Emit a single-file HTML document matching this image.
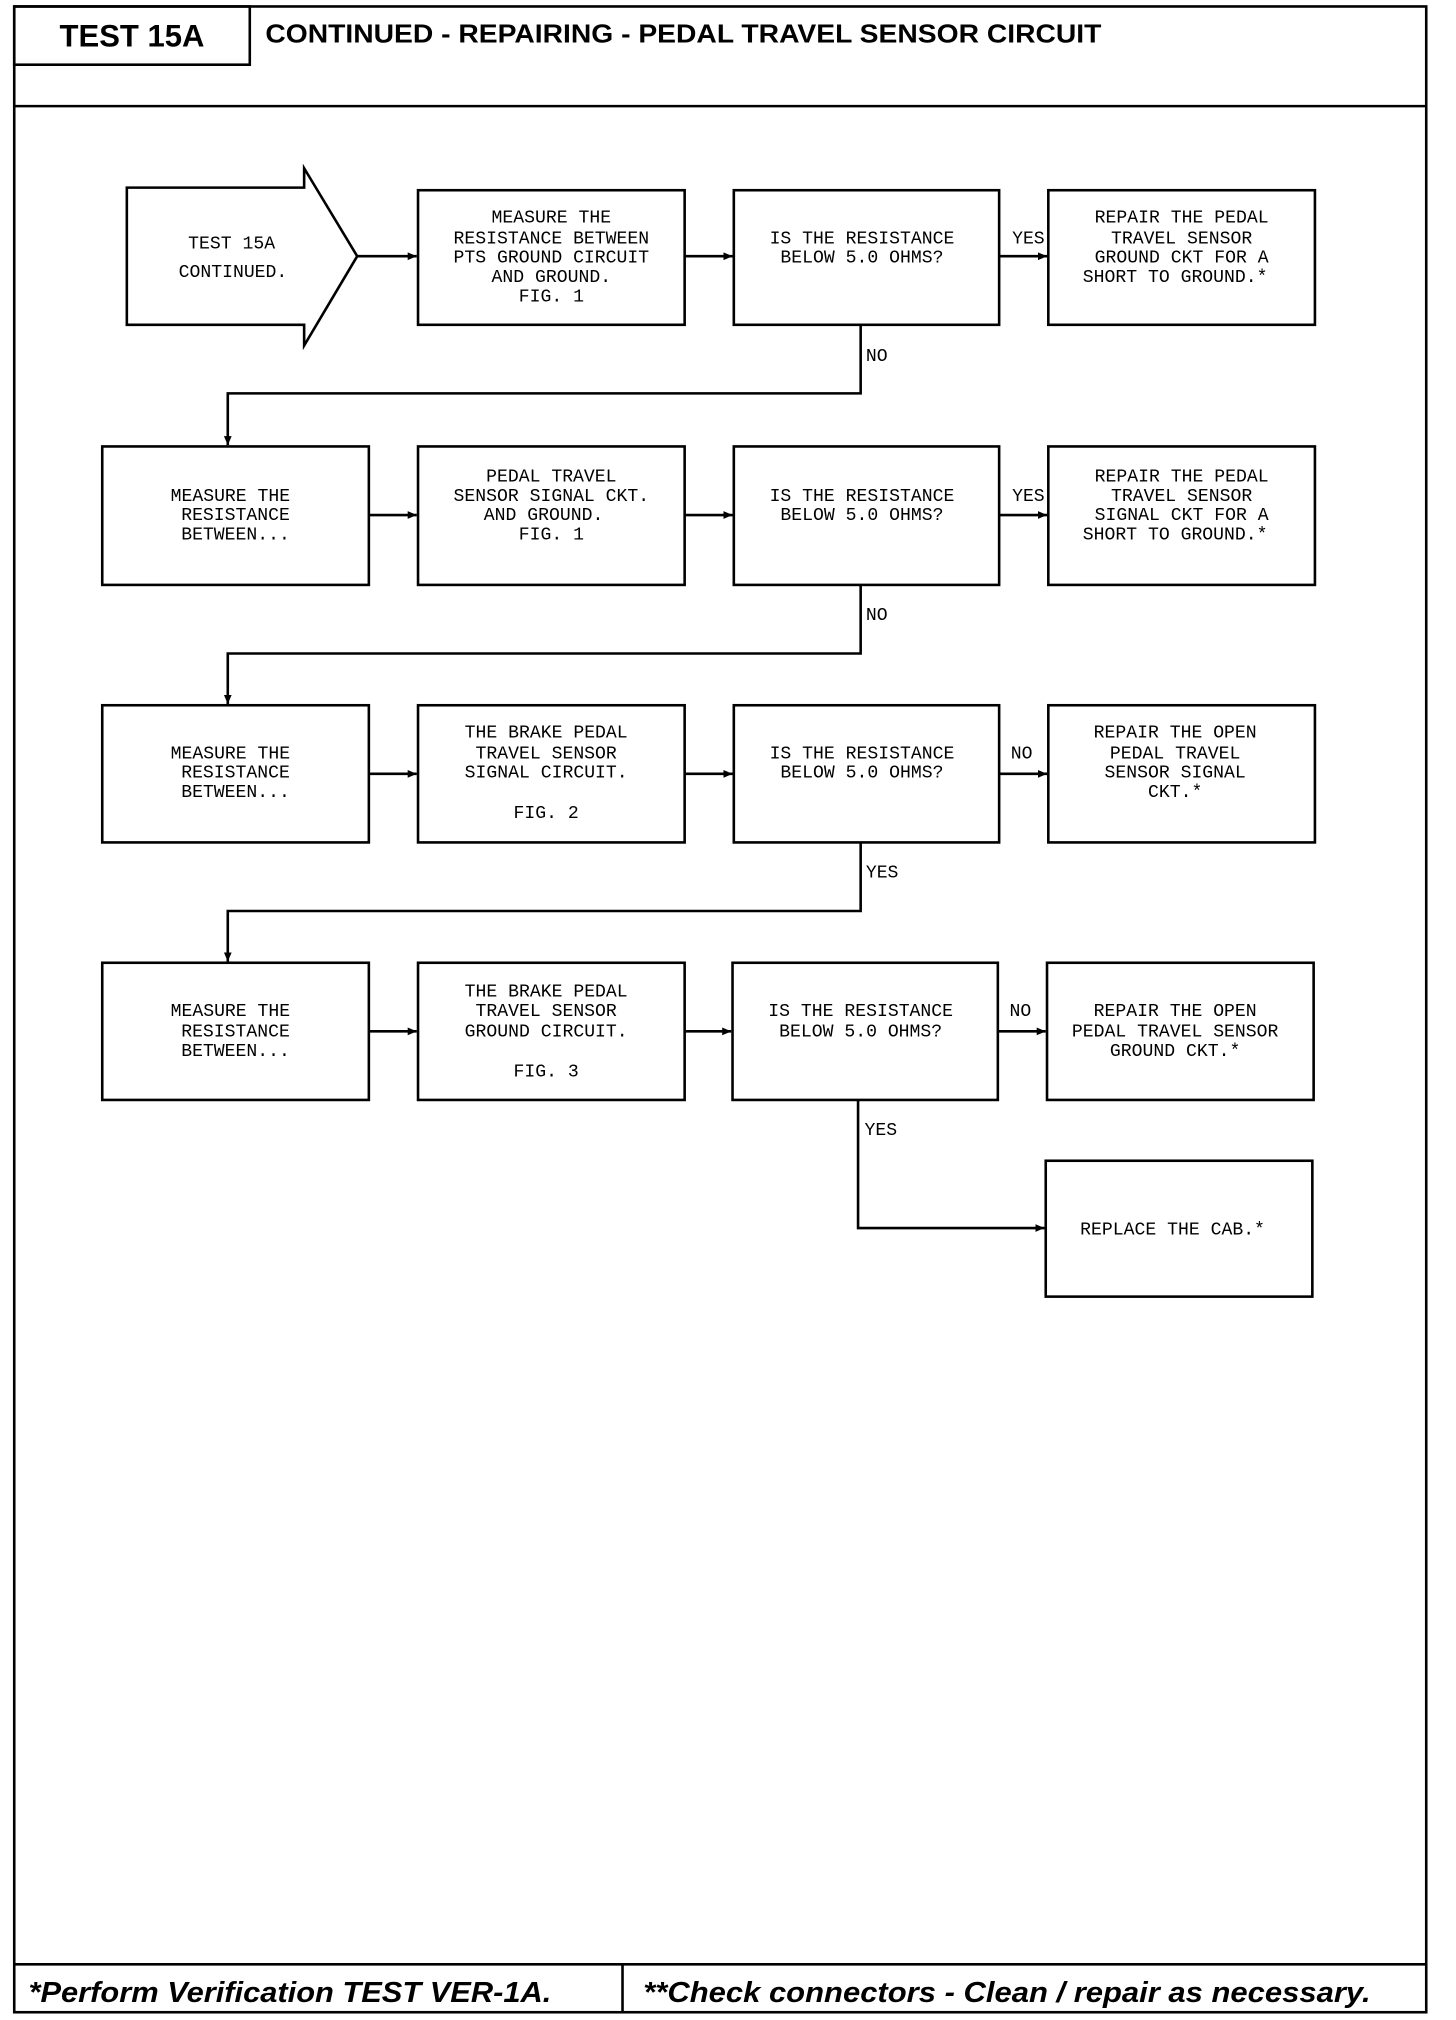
<!DOCTYPE html>
<html><head><meta charset="utf-8"><style>
html,body{margin:0;padding:0;background:#fff}
svg{display:block}
.t{font-family:"Liberation Mono",monospace;font-size:14px;fill:#000;text-anchor:middle}
.l{font-family:"Liberation Mono",monospace;font-size:14px;fill:#000}
</style></head><body>
<svg width="1456" height="2020" viewBox="0 0 1125 1561" preserveAspectRatio="none" xmlns="http://www.w3.org/2000/svg">
<defs><marker id="a" markerWidth="8" markerHeight="8" refX="7" refY="4" orient="auto" markerUnits="userSpaceOnUse"><path d="M0,1 L7,4 L0,7 Z" fill="#000"/></marker></defs>
<g fill="none" stroke="#000" stroke-width="2">
<rect x="11" y="5" width="1091" height="1550"/>
<rect x="11" y="5" width="182" height="45"/>
<line x1="11" y1="82" x2="1102" y2="82"/>
<line x1="11" y1="1518" x2="1102" y2="1518"/>
<line x1="481" y1="1518" x2="481" y2="1555"/>
<path d="M98,145 H235 V130 L276,198 L235,267 V251 H98 Z"/>
<rect x="323" y="147" width="206" height="104"/>
<rect x="567" y="147" width="205" height="104"/>
<rect x="810" y="147" width="206" height="104"/>
<rect x="79" y="345" width="206" height="107"/>
<rect x="323" y="345" width="206" height="107"/>
<rect x="567" y="345" width="205" height="107"/>
<rect x="810" y="345" width="206" height="107"/>
<rect x="79" y="545" width="206" height="106"/>
<rect x="323" y="545" width="206" height="106"/>
<rect x="567" y="545" width="205" height="106"/>
<rect x="810" y="545" width="206" height="106"/>
<rect x="79" y="744" width="206" height="106"/>
<rect x="323" y="744" width="206" height="106"/>
<rect x="566" y="744" width="205" height="106"/>
<rect x="809" y="744" width="206" height="106"/>
<rect x="808" y="897" width="206" height="105"/>
</g>
<g fill="none" stroke="#000" stroke-width="2" marker-end="url(#a)">
<line x1="276" y1="198" x2="322" y2="198"/>
<line x1="529" y1="198" x2="566" y2="198"/>
<line x1="772" y1="198" x2="809" y2="198"/>
<path d="M665,251 V304 H176 V344"/>
<line x1="285" y1="398" x2="322" y2="398"/>
<line x1="529" y1="398" x2="566" y2="398"/>
<line x1="772" y1="398" x2="809" y2="398"/>
<path d="M665,452 V505 H176 V544"/>
<line x1="285" y1="598" x2="322" y2="598"/>
<line x1="529" y1="598" x2="566" y2="598"/>
<line x1="772" y1="598" x2="809" y2="598"/>
<path d="M665,651 V704 H176 V743"/>
<line x1="285" y1="797" x2="322" y2="797"/>
<line x1="529" y1="797" x2="565" y2="797"/>
<line x1="771" y1="797" x2="808" y2="797"/>
<path d="M663,850 V949 H807"/>
</g>
<text x="102" y="36" font-family="Liberation Sans,sans-serif" font-weight="bold" font-size="24" text-anchor="middle">TEST 15A</text>
<text x="205" y="33" font-family="Liberation Sans,sans-serif" font-weight="bold" font-size="20" textLength="646" lengthAdjust="spacingAndGlyphs">CONTINUED - REPAIRING - PEDAL TRAVEL SENSOR CIRCUIT</text>
<text x="22" y="1547" font-family="Liberation Sans,sans-serif" font-weight="bold" font-style="italic" font-size="22" textLength="404" lengthAdjust="spacingAndGlyphs">*Perform Verification TEST VER-1A.</text>
<text x="497" y="1547" font-family="Liberation Sans,sans-serif" font-weight="bold" font-style="italic" font-size="22" textLength="562" lengthAdjust="spacingAndGlyphs">**Check connectors - Clean / repair as necessary.</text>
<g class="t">
<text x="179" y="192">TEST 15A</text><text x="180" y="214">CONTINUED.</text>
<text x="426" y="172">MEASURE THE</text><text x="426" y="188">RESISTANCE BETWEEN</text><text x="426" y="203">PTS GROUND CIRCUIT</text><text x="426" y="218">AND GROUND.</text><text x="426" y="233">FIG. 1</text>
<text x="666" y="188">IS THE RESISTANCE</text><text x="666" y="203">BELOW 5.0 OHMS?</text>
<text x="913" y="172">REPAIR THE PEDAL</text><text x="913" y="188">TRAVEL SENSOR</text><text x="913" y="203">GROUND CKT FOR A</text><text x="908" y="218">SHORT TO GROUND.*</text>
<text x="178" y="387">MEASURE THE</text><text x="182" y="402">RESISTANCE</text><text x="182" y="417">BETWEEN...</text>
<text x="426" y="372">PEDAL TRAVEL</text><text x="426" y="387">SENSOR SIGNAL CKT.</text><text x="420" y="402">AND GROUND.</text><text x="426" y="417">FIG. 1</text>
<text x="666" y="387">IS THE RESISTANCE</text><text x="666" y="402">BELOW 5.0 OHMS?</text>
<text x="913" y="372">REPAIR THE PEDAL</text><text x="913" y="387">TRAVEL SENSOR</text><text x="913" y="402">SIGNAL CKT FOR A</text><text x="908" y="417">SHORT TO GROUND.*</text>
<text x="178" y="586">MEASURE THE</text><text x="182" y="601">RESISTANCE</text><text x="182" y="616">BETWEEN...</text>
<text x="422" y="570">THE BRAKE PEDAL</text><text x="422" y="586">TRAVEL SENSOR</text><text x="422" y="601">SIGNAL CIRCUIT.</text><text x="422" y="632">FIG. 2</text>
<text x="666" y="586">IS THE RESISTANCE</text><text x="666" y="601">BELOW 5.0 OHMS?</text>
<text x="908" y="570">REPAIR THE OPEN</text><text x="908" y="586">PEDAL TRAVEL</text><text x="908" y="601">SENSOR SIGNAL</text><text x="908" y="616">CKT.*</text>
<text x="178" y="785">MEASURE THE</text><text x="182" y="801">RESISTANCE</text><text x="182" y="816">BETWEEN...</text>
<text x="422" y="770">THE BRAKE PEDAL</text><text x="422" y="785">TRAVEL SENSOR</text><text x="422" y="801">GROUND CIRCUIT.</text><text x="422" y="832">FIG. 3</text>
<text x="665" y="785">IS THE RESISTANCE</text><text x="665" y="801">BELOW 5.0 OHMS?</text>
<text x="908" y="785">REPAIR THE OPEN</text><text x="908" y="801">PEDAL TRAVEL SENSOR</text><text x="908" y="816">GROUND CKT.*</text>
<text x="906" y="954">REPLACE THE CAB.*</text>
</g>
<g class="l">
<text x="782" y="188">YES</text><text x="669" y="279">NO</text>
<text x="782" y="387">YES</text><text x="669" y="479">NO</text>
<text x="781" y="586">NO</text><text x="669" y="678">YES</text>
<text x="780" y="785">NO</text><text x="668" y="877">YES</text>
</g>
</svg>
</body></html>
